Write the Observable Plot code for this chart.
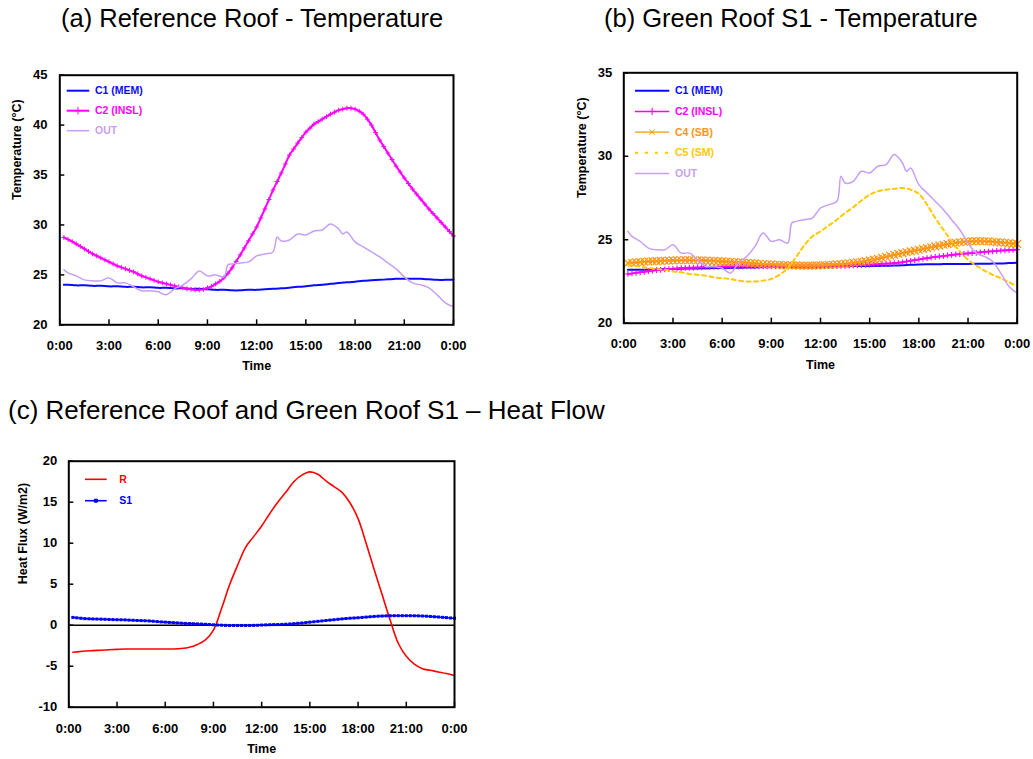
<!DOCTYPE html>
<html><head><meta charset="utf-8">
<script src="https://cdn.jsdelivr.net/npm/d3@7"></script>
<script src="https://cdn.jsdelivr.net/npm/@observablehq/plot@0.6"></script>
<style>
body{margin:0;background:#fff;}
#wrap{position:relative;width:1033px;height:759px;overflow:hidden;font-family:"Liberation Sans",Arial,sans-serif;}
.title{position:absolute;font-size:25.5px;line-height:30px;color:#000;white-space:nowrap;}
.panel{position:absolute;}
</style></head><body>
<div id="wrap">
<div class="title" style="left:61px;top:3px">(a) Reference Roof - Temperature</div>
<div class="title" style="left:604px;top:3px">(b) Green Roof S1 - Temperature</div>
<div class="title" style="left:8px;top:395px;font-size:26px">(c) Reference Roof and Green Roof S1 – Heat Flow</div>
<div class="panel" id="pa" style="left:0;top:60px"></div>
<div class="panel" id="pb" style="left:570px;top:60px"></div>
<div class="panel" id="pc" style="left:0;top:440px"></div>
</div>
<script>
// ---- tick values / labels ----
const timeTicks = [0,3,6,9,12,15,18,21,24];
const timeTickLabels = ["0:00","3:00","6:00","9:00","12:00","15:00","18:00","21:00","0:00"];
const tempTicksA = [20,25,30,35,40,45];
const tempTicksB = [20,25,30,35];
const fluxTicks = [-10,-5,0,5,10,15,20];
const fluxTickLabels = ["-10","-5","0","5","10","15","20"];

// ---- sample times (hours) ----
const halfHourTimes = [0.25,0.5,1,1.5,2,2.5,3,3.5,4,4.5,5,5.5,6,6.5,7,7.5,8,8.5,9,9.5,10,10.5,11,11.5,12,
  12.5,13,13.5,14,14.5,15,15.5,16,16.5,17,17.5,18,18.5,19,19.5,20,20.5,21,21.5,22,22.5,23,23.5,24];
const quarterTimes = [
  0.25,0.5,0.75,1,1.25,1.5,1.75,2,2.25,2.5,2.75,3,
  3.25,3.5,3.75,4,4.25,4.5,4.75,5,5.25,5.5,5.75,6,
  6.25,6.5,6.75,7,7.25,7.5,7.75,8,8.25,8.5,8.75,9,
  9.25,9.5,9.75,10,10.25,10.5,10.75,11,11.25,11.5,11.75,12,
  12.25,12.5,12.75,13,13.25,13.5,13.75,14,14.25,14.5,14.75,15,
  15.25,15.5,15.75,16,16.25,16.5,16.75,17,17.25,17.5,17.75,18,
  18.25,18.5,18.75,19,19.25,19.5,19.75,20,20.25,20.5,20.75,21,
  21.25,21.5,21.75,22,22.25,22.5,22.75,23,23.25,23.5,23.75,24];
const outTimes = [0.25,0.5,1,1.5,2,2.5,3,3.5,4,4.5,5,5.5,6,6.5,7,7.5,8,8.5,9,9.5,10,10.25,10.5,11,11.5,12,
  12.5,13,13.25,13.5,14,14.5,15,15.5,16,16.5,17,17.25,17.5,18,18.5,19,19.5,20,20.5,21,21.5,22,22.5,23,23.5,24];

// ---- outdoor air (both temperature panels) ----
const outTemp = [25.5,25.2,24.9,24.5,24.4,24.4,24.7,24.2,24.2,23.8,23.4,23.4,23.3,23.0,23.6,24.0,24.6,25.4,24.9,25.0,24.8,26.0,
  26.1,26.2,26.3,26.9,27.1,27.3,28.8,28.4,28.5,29.1,29.0,29.4,29.5,30.1,29.6,29.1,29.3,28.3,27.8,27.3,26.8,26.2,25.6,24.8,
  24.2,24.0,23.7,23.0,22.2,21.8];

// ---- (a) Reference roof ----
const refC1 = [24.0,24.0,23.95,23.95,23.9,23.9,23.85,23.85,23.8,23.8,23.75,23.75,23.7,23.7,23.65,23.65,23.6,23.6,23.55,23.5,
  23.5,23.45,23.45,23.5,23.5,23.55,23.6,23.65,23.72,23.8,23.85,23.95,24.02,24.1,24.18,24.25,24.32,24.4,24.45,24.5,24.55,
  24.6,24.6,24.6,24.6,24.55,24.5,24.5,24.5];
const refC2 = [
  28.75,28.55,28.35,28.1,27.85,27.6,27.35,27.1,26.9,26.7,26.5,26.3,
  26.1,25.9,25.75,25.6,25.45,25.3,25.1,24.9,24.75,24.6,24.45,24.3,
  24.2,24.1,24.0,23.9,23.8,23.7,23.6,23.55,23.5,23.5,23.55,23.7,
  23.85,24.1,24.35,24.7,25.15,25.7,26.35,27.0,27.7,28.4,29.1,29.8,
  30.7,31.6,32.55,33.5,34.35,35.2,36.1,37.0,37.6,38.2,38.75,39.3,
  39.7,40.1,40.35,40.6,40.85,41.1,41.3,41.5,41.6,41.7,41.7,41.6,
  41.4,41.1,40.6,40.0,39.25,38.5,37.85,37.2,36.55,35.9,35.3,34.7,
  34.15,33.6,33.1,32.6,32.1,31.6,31.15,30.7,30.25,29.8,29.35,28.9];

// ---- (b) Green roof S1 ----
const s1C1 = [23.2,23.2,23.2,23.2,23.22,23.24,23.25,23.26,23.27,23.28,23.29,23.3,23.3,23.31,23.32,23.33,23.34,23.35,23.36,
  23.37,23.38,23.39,23.4,23.4,23.4,23.4,23.41,23.41,23.42,23.42,23.43,23.43,23.44,23.45,23.47,23.5,23.52,23.53,23.53,
  23.54,23.55,23.55,23.55,23.56,23.56,23.57,23.58,23.6,23.62];
const s1C2 = [
  22.95,22.98,23.02,23.05,23.08,23.12,23.15,23.18,23.2,23.22,23.24,23.26,
  23.28,23.3,23.31,23.32,23.33,23.34,23.35,23.36,23.37,23.38,23.38,23.39,
  23.39,23.4,23.4,23.4,23.4,23.4,23.4,23.4,23.4,23.4,23.4,23.4,
  23.4,23.4,23.4,23.4,23.4,23.4,23.4,23.4,23.41,23.41,23.41,23.41,
  23.42,23.42,23.42,23.43,23.43,23.44,23.45,23.46,23.47,23.48,23.49,23.5,
  23.52,23.54,23.56,23.57,23.58,23.6,23.62,23.65,23.7,23.74,23.78,23.82,
  23.86,23.9,23.94,23.97,24.0,24.03,24.06,24.09,24.12,24.14,24.16,24.18,
  24.2,24.22,24.25,24.27,24.29,24.31,24.33,24.35,24.36,24.38,24.39,24.4];
const s1C4 = [
  23.6,23.62,23.64,23.66,23.68,23.7,23.71,23.72,23.73,23.74,23.75,23.76,
  23.77,23.77,23.78,23.78,23.77,23.77,23.76,23.75,23.74,23.73,23.72,23.7,
  23.69,23.68,23.66,23.65,23.63,23.62,23.6,23.58,23.56,23.54,23.53,23.52,
  23.5,23.49,23.48,23.47,23.46,23.46,23.45,23.45,23.45,23.45,23.46,23.47,
  23.48,23.49,23.5,23.52,23.54,23.56,23.59,23.62,23.65,23.68,23.72,23.76,
  23.81,23.86,23.92,23.98,24.04,24.1,24.15,24.2,24.25,24.3,24.35,24.4,
  24.45,24.5,24.55,24.6,24.65,24.7,24.74,24.78,24.82,24.85,24.88,24.9,
  24.91,24.92,24.92,24.91,24.9,24.88,24.86,24.84,24.82,24.8,24.77,24.75];
const s1C5 = [23.5,23.45,23.4,23.3,23.25,23.2,23.1,23.05,22.95,22.9,22.85,22.75,22.7,22.65,22.55,22.5,22.5,22.55,22.65,
  22.9,23.3,23.95,24.65,25.2,25.5,25.85,26.2,26.6,26.95,27.35,27.7,27.9,28.0,28.05,28.1,28.0,27.75,27.1,26.3,25.6,24.9,
  24.3,23.8,23.45,23.15,22.9,22.7,22.45,22.2];

// ---- (c) Heat flux ----
const fluxR = [-3.3,-3.25,-3.15,-3.1,-3.05,-3.0,-2.95,-2.9,-2.9,-2.9,-2.9,-2.9,-2.9,-2.9,-2.85,-2.7,-2.35,-1.8,-0.6,2.0,
  4.9,7.3,9.5,10.8,12.1,13.6,15.0,16.2,17.5,18.3,18.7,18.4,17.6,16.9,16.2,14.9,13.0,10.0,6.8,3.7,0.6,-2.2,-3.8,-4.75,
  -5.3,-5.5,-5.7,-5.9,-6.15];
const fluxS1 = [
  0.95,0.9,0.85,0.8,0.78,0.76,0.75,0.74,0.72,0.7,0.68,0.67,
  0.66,0.65,0.62,0.6,0.58,0.56,0.54,0.52,0.48,0.44,0.4,0.37,
  0.34,0.31,0.28,0.25,0.22,0.2,0.18,0.16,0.14,0.11,0.08,0.05,
  0.02,0.0,-0.02,-0.03,-0.03,-0.03,-0.03,-0.03,-0.03,-0.02,-0.01,0.02,
  0.04,0.06,0.07,0.08,0.1,0.12,0.15,0.19,0.23,0.27,0.32,0.37,
  0.42,0.47,0.52,0.57,0.62,0.67,0.72,0.77,0.81,0.85,0.88,0.91,
  0.95,0.99,1.03,1.07,1.1,1.12,1.14,1.15,1.16,1.16,1.16,1.16,
  1.16,1.15,1.14,1.12,1.1,1.07,1.03,1.0,0.96,0.92,0.88,0.85];

// ---- colours ----
const C = {blue:"#0a0aff", magenta:"#ff00ff", lav:"#c79ff3", orange:"#ff9410", gold:"#ffc800", red:"#ff0000"};
const FONT = "'Liberation Sans', Arial, Helvetica, sans-serif";

const rows = (ts, vs) => ts.map((t, i) => ({t, v: vs[i]}));

function legendMark(items, o) {
  return (index, scales, values, dim) => {
    const g = d3.create("svg:g");
    items.forEach((it, i) => {
      const y = dim.marginTop + o.y0 + i * o.dy;
      const xa = dim.marginLeft + o.x0;
      g.append("line").attr("x1", xa).attr("x2", xa + o.len).attr("y1", y).attr("y2", y)
        .attr("stroke", it.color).attr("stroke-width", it.width || 1.5)
        .attr("stroke-dasharray", it.dash || null);
      if (it.symbol) {
        g.append("path").attr("d", d3.symbol(it.symbol, it.size)())
          .attr("transform", `translate(${xa + o.len / 2},${y})`)
          .attr("fill", it.fillSym ? it.color : "none")
          .attr("stroke", it.color).attr("stroke-width", 1);
      }
      g.append("text").attr("x", xa + o.len + o.gap).attr("y", y).attr("dy", "0.35em")
        .attr("text-anchor", "start")
        .attr("fill", it.color).attr("font-weight", "bold").attr("font-size", o.fs)
        .attr("font-family", FONT).text(it.label);
    });
    return g.node();
  };
}

function buildPanel(cfg) {
  const fw = cfg.width - cfg.ml - cfg.mr, fh = cfg.height - cfg.mt - cfg.mb;
  return Plot.plot({
    width: cfg.width, height: cfg.height,
    marginLeft: cfg.ml, marginRight: cfg.mr, marginTop: cfg.mt, marginBottom: cfg.mb,
    style: {fontFamily: FONT, fontSize: "13px", fontWeight: "bold", color: "#000", background: "transparent", overflow: "visible"},
    x: {domain: [0, 24]},
    y: {domain: cfg.yDomain},
    marks: [
      ...(cfg.zero ? [Plot.ruleY([0], {stroke: "#000", strokeWidth: 1.5})] : []),
      ...cfg.marks,
      Plot.ruleX(timeTicks, {x: d => d, insetTop: fh - 5, stroke: "#000", strokeWidth: 1.5}),
      Plot.ruleY(cfg.yTicks, {y: d => d, insetRight: fw - 5, stroke: "#000", strokeWidth: 1.5}),
      Plot.frame({stroke: "#000", strokeWidth: 2}),
      Plot.axisX(timeTicks, {tickSize: 0, tickPadding: cfg.xPad, label: null, fontSize: 13, fontWeight: "bold",
        tickFormat: d => timeTickLabels[timeTicks.indexOf(d)]}),
      Plot.axisY(cfg.yTicks, {tickSize: 0, tickPadding: cfg.yPad, label: null, fontSize: 13, fontWeight: "bold",
        tickFormat: d => cfg.yLabels[cfg.yTicks.indexOf(d)]}),
      Plot.text(["Time"], {text: d => d, frameAnchor: "bottom", dy: cfg.timeDy, fontSize: 12.5, fontWeight: "bold"}),
      Plot.text([cfg.yTitle], {text: d => d, frameAnchor: "left", dx: cfg.yTitleDx, rotate: -90, fontSize: 12.5, fontWeight: "bold"}),
      legendMark(cfg.legend, cfg.legendOpts)
    ]
  });
}

// (a)
const outRows = rows(outTimes, outTemp);
const refC2Rows = rows(quarterTimes, refC2);
document.getElementById("pa").append(buildPanel({
  width: 470, height: 320, ml: 59.3, mr: 17, mt: 14.7, mb: 55.7,
  yDomain: [20, 45], yTicks: tempTicksA, yLabels: tempTicksA.map(String),
  xPad: 16, yPad: 12.3, timeDy: 45, yTitle: "Temperature (°C)", yTitleDx: -42.6,
  marks: [
    Plot.line(rows(halfHourTimes, refC1), {x: "t", y: "v", stroke: C.blue, strokeWidth: 2, curve: "catmull-rom"}),
    Plot.line(refC2Rows, {x: "t", y: "v", stroke: C.magenta, strokeWidth: 2, curve: "catmull-rom"}),
    Plot.dot(refC2Rows, {x: "t", y: "v", symbol: "plus", r: 1.7, stroke: C.magenta, strokeWidth: 1}),
    Plot.line(outRows, {x: "t", y: "v", stroke: C.lav, strokeWidth: 1.5, curve: "catmull-rom"})
  ],
  legend: [
    {label: "C1 (MEM)", color: C.blue, width: 2},
    {label: "C2 (INSL)", color: C.magenta, width: 2, symbol: d3.symbolPlus, size: 20},
    {label: "OUT", color: C.lav, width: 1.5}
  ],
  legendOpts: {x0: 7.4, y0: 16, dy: 20, len: 22.6, gap: 5.7, fs: 10.5}
}));

// (b)
const s1C2Rows = rows(quarterTimes, s1C2);
const s1C4Rows = rows(quarterTimes, s1C4);
document.getElementById("pb").append(buildPanel({
  width: 463, height: 320, ml: 53.3, mr: 16.3, mt: 12.3, mb: 57.3,
  yDomain: [20, 35], yTicks: tempTicksB, yLabels: tempTicksB.map(String),
  xPad: 16, yPad: 11.6, timeDy: 45.6, yTitle: "Temperature (°C)", yTitleDx: -41.6,
  marks: [
    Plot.line(rows(halfHourTimes, s1C1), {x: "t", y: "v", stroke: C.blue, strokeWidth: 2, curve: "catmull-rom"}),
    Plot.line(s1C2Rows, {x: "t", y: "v", stroke: C.magenta, strokeWidth: 2, curve: "catmull-rom"}),
    Plot.dot(s1C2Rows, {x: "t", y: "v", symbol: "plus", r: 2, stroke: C.magenta, strokeWidth: 1.1}),
    Plot.line(s1C4Rows, {x: "t", y: "v", stroke: C.orange, strokeWidth: 1.5, curve: "catmull-rom"}),
    Plot.dot(s1C4Rows, {x: "t", y: "v", symbol: "times", r: 3.6, stroke: C.orange, strokeWidth: 1.3}),
    Plot.line(rows(halfHourTimes, s1C5), {x: "t", y: "v", stroke: C.gold, strokeWidth: 2, strokeDasharray: "4,3.5", curve: "catmull-rom"}),
    Plot.line(outRows, {x: "t", y: "v", stroke: C.lav, strokeWidth: 1.5, curve: "catmull-rom"})
  ],
  legend: [
    {label: "C1 (MEM)", color: C.blue, width: 2},
    {label: "C2 (INSL)", color: C.magenta, width: 1.5, symbol: d3.symbolPlus, size: 20},
    {label: "C4 (SB)", color: C.orange, width: 1.2, symbol: d3.symbolTimes, size: 20},
    {label: "C5 (SM)", color: C.gold, width: 2, dash: "3,7"},
    {label: "OUT", color: C.lav, width: 1.5}
  ],
  legendOpts: {x0: 11.7, y0: 18.4, dy: 20.7, len: 34.3, gap: 5.7, fs: 10.5}
}));

// (c)
const s1FluxRows = rows(quarterTimes, fluxS1);
document.getElementById("pc").append(buildPanel({
  width: 480, height: 319, ml: 68.3, mr: 26, mt: 20.7, mb: 52.3,
  yDomain: [-10, 20], yTicks: fluxTicks, yLabels: fluxTickLabels, zero: true,
  xPad: 17, yPad: 11.6, timeDy: 45.6, yTitle: "Heat Flux (W/m2)", yTitleDx: -45.6,
  marks: [
    Plot.line(rows(halfHourTimes, fluxR), {x: "t", y: "v", stroke: C.red, strokeWidth: 1.6, curve: "catmull-rom"}),
    Plot.line(s1FluxRows, {x: "t", y: "v", stroke: "#0000ff", strokeWidth: 1.6, curve: "catmull-rom"}),
    Plot.dot(s1FluxRows, {x: "t", y: "v", symbol: "square", r: 1.7, fill: "#0000ff", stroke: "none"})
  ],
  legend: [
    {label: "R", color: C.red, width: 1.6},
    {label: "S1", color: "#0000ff", width: 1.6, symbol: d3.symbolSquare, size: 9, fillSym: true}
  ],
  legendOpts: {x0: 16.7, y0: 18.6, dy: 21.4, len: 21.7, gap: 12.6, fs: 10.5}
}));
</script>
</body></html>
